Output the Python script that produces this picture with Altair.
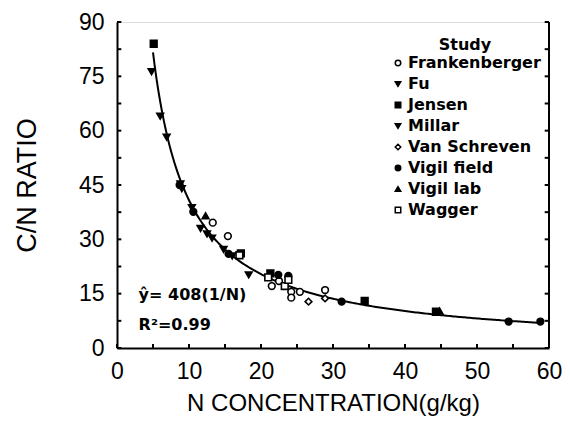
import altair as alt
import pandas as pd

studies = ["Frankenberger", "Fu", "Jensen", "Millar", "Van Schreven",
           "Vigil field", "Vigil lab", "Wagger"]
shapes = ["circle", "triangle-down", "square", "triangle-down", "diamond",
          "circle", "triangle-up", "square"]
fills = ["white", "black", "black", "black", "white", "black", "black", "white"]

pt_study = (["Frankenberger"] * 8 + ["Fu"] * 7 + ["Jensen"] * 5 + ["Millar"] * 5
            + ["Van Schreven"] * 2 + ["Vigil field"] * 8 + ["Vigil lab"] * 2 + ["Wagger"] * 4)
pt_n = [13.3, 15.4, 21.5, 24.2, 24.2, 25.4, 28.9, 22.5,
        4.8, 6.0, 6.9, 8.8, 10.4, 11.6, 18.3,
        5.1, 34.4, 44.3, 21.3, 17.2,
        9.0, 12.5, 13.2, 14.8, 16.0,
        26.6, 28.9,
        8.7, 10.6, 54.4, 58.8, 22.4, 23.8, 15.5, 31.2,
        12.3, 44.8,
        23.3, 23.8, 17.0, 21.0]
pt_cn = [34.6, 30.9, 17.1, 15.5, 13.9, 15.5, 16.0, 18.5,
         76.3, 64.0, 58.2, 45.3, 38.7, 33.0, 20.2,
         84.0, 13.0, 10.0, 20.6, 26.1,
         44.0, 31.5, 30.3, 27.2, 25.4,
         12.8, 13.7,
         45.0, 37.6, 7.3, 7.3, 20.2, 19.9, 26.0, 12.8,
         36.5, 10.2,
         17.1, 18.8, 25.6, 19.5]

fit_coef = 408
fit_start, fit_end = 5.0, 59.0

y_ticks = [0, 7.5, 15, 22.5, 30, 37.5, 45, 52.5, 60, 67.5, 75, 82.5, 90]
x_ticks = [0, 5, 10, 15, 20, 25, 30, 35, 40, 45, 50, 55, 60]

ann_text = ["ŷ= 408(1/N)", "R²=0.99"]
ann_x = [3.0, 3.0]
ann_y = [13.3, 5.0]

pts = pd.DataFrame({"N": pt_n, "CN": pt_cn, "Study": pt_study})

xs = alt.Scale(domain=[0, 60], nice=False, zero=False)
ys = alt.Scale(domain=[0, 90], nice=False, zero=False)

FONT = "Liberation Sans"
BFONT = "DejaVu Sans"

base_x = alt.X("N:Q", scale=xs, title="N CONCENTRATION(g/kg)",
               axis=alt.Axis(values=list(range(0, 61, 10)), format="d", ticks=False, tickSize=0,
                             grid=False, labelPadding=12, titlePadding=8,
                             labelFontSize=23, titleFontSize=24, labelFont=FONT, titleFont=FONT,
                             titleFontWeight="normal", labelColor="black", titleColor="black",
                             domainColor="black", domainWidth=2, labelFlush=False))
base_y = alt.Y("CN:Q", scale=ys, title="C/N RATIO",
               axis=alt.Axis(values=list(range(0, 91, 15)), ticks=False, tickSize=0, grid=False,
                             labelPadding=13, titlePadding=37,
                             labelFontSize=23, titleFontSize=27, labelFont=FONT, titleFont=FONT,
                             titleFontWeight="normal", labelColor="black", titleColor="black",
                             domainColor="black", domainWidth=2))

points = alt.Chart(pts).mark_point(size=45, strokeWidth=1.6, opacity=1).encode(
    x=base_x, y=base_y,
    shape=alt.Shape("Study:N", scale=alt.Scale(domain=studies, range=shapes),
                    legend=alt.Legend(title="Study", orient="none", legendX=273, legendY=15,
                                      titleFontSize=16, titleFontWeight="bold", titleFont=BFONT,
                                      titleAnchor="middle", titleColor="black", titlePadding=2,
                                      labelFontSize=16, labelFontWeight="bold", labelFont=BFONT,
                                      labelColor="black", symbolSize=30, rowPadding=5,
                                      labelOffset=2, symbolStrokeWidth=1.5)),
    fill=alt.Fill("Study:N", scale=alt.Scale(domain=studies, range=fills)),
    stroke=alt.value("black"),
)

curve = alt.Chart(alt.sequence(fit_start, fit_end + 0.01, 0.25, as_="N")).transform_calculate(
    CN=f"{fit_coef} / datum.N"
).mark_line(color="black", strokeWidth=2).encode(
    x=alt.X("N:Q", scale=xs), y=alt.Y("CN:Q", scale=ys)
)

ytk_l = pd.DataFrame({"v": y_ticks, "a": [0.0] * len(y_ticks), "b": [0.6] * len(y_ticks)})
ytk_r = pd.DataFrame({"v": y_ticks, "a": [59.4] * len(y_ticks), "b": [60.0] * len(y_ticks)})
xtk = pd.DataFrame({"v": x_ticks, "a": [0.0] * len(x_ticks), "b": [1.1] * len(x_ticks)})

ytick_left = alt.Chart(ytk_l).mark_rule(color="black", strokeWidth=2).encode(
    x=alt.X("a:Q", scale=xs), x2=alt.X2("b:Q"), y=alt.Y("v:Q", scale=ys))
ytick_right = alt.Chart(ytk_r).mark_rule(color="black", strokeWidth=2).encode(
    x=alt.X("a:Q", scale=xs), x2=alt.X2("b:Q"), y=alt.Y("v:Q", scale=ys))
xtick = alt.Chart(xtk).mark_rule(color="black", strokeWidth=2).encode(
    x=alt.X("v:Q", scale=xs), y=alt.Y("a:Q", scale=ys), y2=alt.Y2("b:Q"))
right_border = alt.Chart(pd.DataFrame({"x": [60], "y0": [0], "y1": [90]})).mark_rule(
    color="black", strokeWidth=2).encode(
    x=alt.X("x:Q", scale=xs), y=alt.Y("y0:Q", scale=ys), y2=alt.Y2("y1:Q"))

ann = alt.Chart(pd.DataFrame({"t": ann_text, "x": ann_x, "y": ann_y})).mark_text(
    align="left", baseline="alphabetic", fontSize=16, fontWeight="bold", font=BFONT,
    color="black").encode(
    x=alt.X("x:Q", scale=xs), y=alt.Y("y:Q", scale=ys), text="t:N")

chart = alt.layer(curve, points, ytick_left, ytick_right, xtick, right_border, ann).properties(
    width=432, height=326,
    autosize=alt.AutoSizeParams(type="none"),
    padding={"left": 109, "top": 14, "right": 13, "bottom": 69},
).configure_view(stroke=None).configure(background="white")

chart.save("out.html", embed_options={"renderer": "svg", "actions": False})
